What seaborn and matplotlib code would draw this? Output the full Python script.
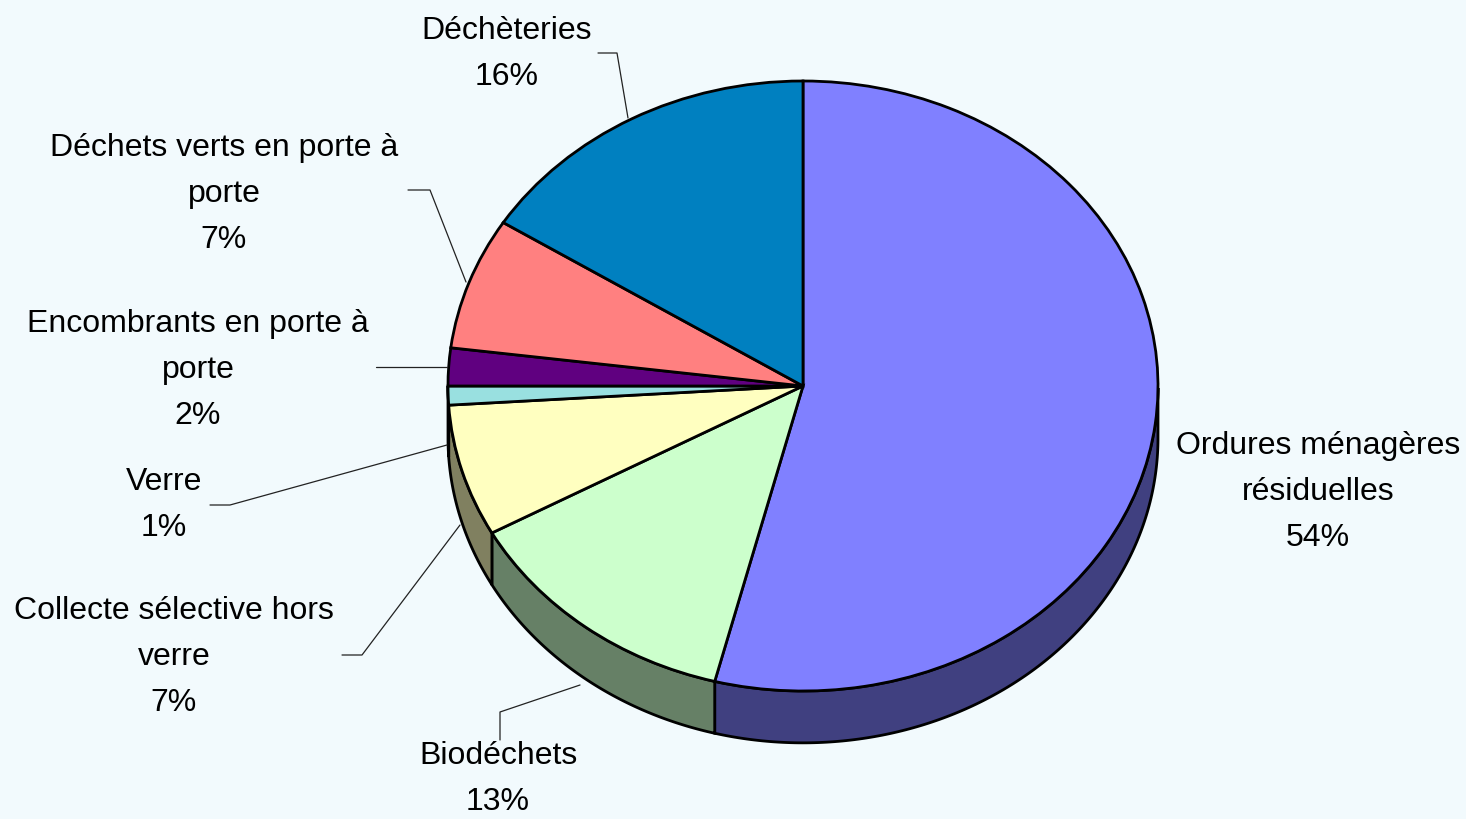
import numpy as np
import matplotlib.pyplot as plt
import matplotlib.colors as mcolors
from matplotlib.patches import Polygon
import seaborn as sns

# Data
categories = ["Ordures ménagères\nrésiduelles", "Biodéchets", "Collecte sélective hors\nverre",
              "Verre", "Encombrants en porte à\nporte", "Déchets verts en porte à\nporte", "Déchèteries"]
shares = [54, 13, 7, 1, 2, 7, 16]
top_colors = ["#8080FF", "#CCFFCC", "#FFFFC0", "#99E0E0", "#600080", "#FF8080", "#0080C0"]

sns.set_theme(style="white")
plt.rcParams['font.family'] = ['Liberation Sans', 'DejaVu Sans']

W, H = 1466, 819
bg = "#F2FAFD"
fig = plt.figure(figsize=(W / 100, H / 100), dpi=100, facecolor=bg)

# pie geometry in pixels (ellipse centre, radii) and depth of the 3d side
cx, cy, rx, ry, depth = 803, 386, 355, 305, 0.17
xlo, xhi, ylo, yhi = -1.05, 1.05, -1.25, 1.05
left, right = cx + xlo * rx, cx + xhi * rx
top, bottom = cy - yhi * ry, cy - ylo * ry
pax = fig.add_axes([left / W, 1 - bottom / H, (right - left) / W, (bottom - top) / H])

wedges, _ = pax.pie(shares, colors=top_colors, startangle=90, counterclock=False,
                    wedgeprops=dict(edgecolor='black', linewidth=2, zorder=2))

# side walls of the visible (front) half
for w, col in zip(wedges, top_colors):
    t = np.radians(np.linspace(w.theta1, w.theta2, 300))
    t = t[np.sin(t) <= 1e-9]
    if len(t) < 2:
        continue
    xs, ys = np.cos(t), np.sin(t)
    pts = np.r_[np.c_[xs, ys], np.c_[xs[::-1], ys[::-1] - depth]]
    dark = tuple(np.array(mcolors.to_rgb(col)) * 0.5)
    pax.add_patch(Polygon(pts, closed=True, facecolor=dark, edgecolor='black',
                          linewidth=2, zorder=1))

pax.set_aspect('auto')
pax.set_xlim(xlo, xhi)
pax.set_ylim(ylo, yhi)
pax.axis('off')

# labels and leader lines, in pixel coordinates
lax = fig.add_axes([0, 0, 1, 1])
lax.set_xlim(0, W)
lax.set_ylim(H, 0)
lax.axis('off')

label_pos = [(1318, 492), (498, 779), (174, 657), (164, 505), (198, 370), (224, 194), (507, 54)]
leaders = [None,
           [(500, 740), (500, 712), (580, 685)],
           [(342, 655), (362, 655), (460, 525)],
           [(210, 505), (230, 505), (447, 445)],
           [(376, 367), (447, 367)],
           [(408, 190), (430, 190), (466, 282)],
           [(598, 53), (617, 53), (628, 118)]]

for name, share, (x, y), ld in zip(categories, shares, label_pos, leaders):
    lax.text(x, y, f"{name}\n{share}%", ha='center', va='center', fontsize=23,
             color='black', linespacing=1.68, multialignment='center')
    if ld:
        lx, ly = zip(*ld)
        lax.plot(lx, ly, color='#222222', linewidth=0.9)

fig.savefig("out.png", dpi=100, facecolor=bg)
